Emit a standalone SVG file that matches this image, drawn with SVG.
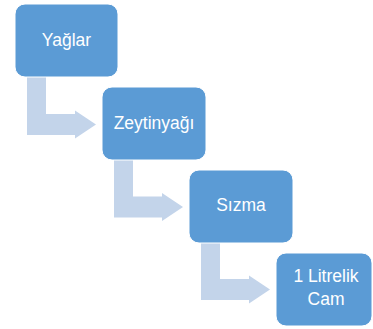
<svg xmlns="http://www.w3.org/2000/svg" width="373" height="329" viewBox="0 0 373 329">
  <style>
    .box { fill: #5b9bd5; stroke: #ffffff; stroke-width: 1; }
    .arrow { fill: #c3d4ea; }
    .label { fill: #ffffff; font-family: "Liberation Sans", Arial, sans-serif; font-size: 17.5px; text-anchor: middle; }
  </style>
  <rect width="373" height="329" fill="#ffffff"/>

  <!-- bent arrows linking each step to the next -->
  <g id="connectors">
    <path class="arrow" d="M27,76 L46,76 L46,114 L75,114 L75,110.5 L96,124.5 L75,138.5 L75,135 L27,135 Z"/>
    <path class="arrow" d="M114,159 L133,159 L133,196.5 L162,196.5 L162,193 L183,207 L162,221 L162,217.5 L114,217.5 Z"/>
    <path class="arrow" d="M201,241 L220,241 L220,279 L249,279 L249,275.5 L270,289.5 L249,303.5 L249,300 L201,300 Z"/>
  </g>

  <g id="node-yaglar">
    <rect class="box" x="15" y="4" width="103" height="73" rx="10"/>
    <text class="label" x="66.5" y="46">Yağlar</text>
  </g>

  <g id="node-zeytinyagi">
    <rect class="box" x="102" y="87" width="104" height="73" rx="10"/>
    <text class="label" x="154" y="129">Zeytinyağı</text>
  </g>

  <g id="node-sizma">
    <rect class="box" x="189" y="170" width="104" height="73" rx="10"/>
    <text class="label" x="241" y="211">Sızma</text>
  </g>

  <g id="node-litrelik">
    <rect class="box" x="276" y="253" width="96" height="73" rx="10"/>
    <text class="label" x="326" y="282">1 Litrelik</text>
    <text class="label" x="326" y="305">Cam</text>
  </g>
</svg>
